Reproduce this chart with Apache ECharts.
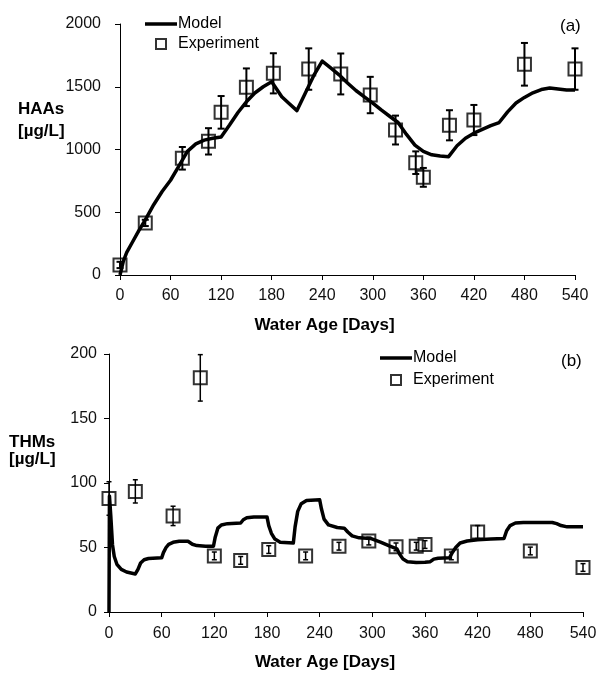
<!DOCTYPE html>
<html>
<head>
<meta charset="utf-8">
<script src="https://cdn.jsdelivr.net/npm/echarts@6/dist/echarts.min.js"></script>
<style>html,body{margin:0;padding:0;background:#fff}#c{width:600px;height:675px}</style>
</head>
<body>
<div id="c"></div>
<script>
// ---- Data ----
var xTicks = [0, 60, 120, 180, 240, 300, 360, 420, 480, 540];

// (a) HAAs
var haaExpDays = [0, 30, 74, 105, 120, 150, 182, 224, 262, 297, 327, 351, 360, 391, 420, 480, 540];
var haaExpVals = [80, 415, 930, 1065, 1296, 1496, 1607, 1641, 1602, 1434, 1155, 895, 778, 1193, 1235, 1679, 1641];
var haaExpErr  = [25, 25, 90, 105, 130, 150, 160, 165, 163, 145, 115, 90, 75, 120, 120, 170, 165];
var haaModelDays = [0, 4, 8, 15, 22, 30, 40, 50, 60, 70, 80, 90, 100, 110, 120, 130, 140, 150, 160, 170, 180, 186, 192, 200, 210, 220, 230, 240, 250, 260, 270, 280, 290, 300, 310, 320, 330, 340, 350, 360, 370, 380, 390, 400, 410, 420, 430, 440, 450, 460, 470, 480, 490, 500, 510, 520, 530, 540];
var haaModelVals = [0, 110, 180, 265, 350, 440, 560, 665, 755, 870, 985, 1045, 1075, 1090, 1100, 1195, 1295, 1380, 1450, 1500, 1540, 1480, 1420, 1370, 1310, 1450, 1590, 1705, 1650, 1595, 1530, 1470, 1420, 1370, 1315, 1265, 1215, 1120, 1035, 985, 958, 948, 943, 1030, 1090, 1130, 1160, 1190, 1215, 1300, 1370, 1415, 1452, 1478, 1490, 1482, 1474, 1474];

// (b) THMs
var thmExpDays = [0, 30, 73, 104, 120, 150, 182, 224, 262, 296, 327, 350, 360, 390, 420, 480, 540];
var thmExpVals = [88, 93.5, 74.5, 181.5, 43.5, 40, 48.4, 43.5, 51, 55, 50.5, 51, 52.3, 43.5, 62, 47.3, 34.5];
var thmExpErr  = [13, 9, 7.5, 18, 3, 3, 3, 3, 3, 3, 3, 3, 3, 3, 5, 3, 3];
var thmModelDays = [0, 0.5, 2, 4, 6, 9, 14, 20, 30, 33, 36, 40, 45, 60, 62, 65, 68, 73, 80, 90, 95, 100, 110, 119, 121, 124, 128, 135, 150, 153, 157, 165, 180, 182, 185, 189, 195, 210, 212, 215, 219, 225, 240, 242, 245, 250, 260, 268, 272, 277, 285, 298, 310, 320, 328, 331, 335, 340, 350, 360, 366, 370, 375, 388, 391, 395, 400, 408, 420, 435, 450, 453, 457, 463, 472, 505, 510, 515, 522, 540];
var thmModelVals = [0, 90, 75, 52, 43, 37, 33, 31, 29.5, 33, 38, 40.5, 41.5, 42, 46, 50, 52.5, 54, 54.8, 54.8, 52.5, 51.5, 51, 51, 58, 65, 67.5, 68.5, 69, 71.5, 73, 73.7, 73.7, 67, 61, 56.5, 54, 53.5, 66, 78, 84, 86.5, 87, 80, 72, 67.5, 65.5, 65, 62, 59, 57.5, 57, 54, 51, 49, 45, 41, 39, 38.3, 38.5, 39, 41, 41.7, 42, 46, 50, 53.5, 55, 56, 56.5, 57, 63, 67, 69, 69.4, 69.4, 68.5, 67, 66, 66];

function zip() {
  var arrs = arguments, out = [];
  for (var i = 0; i < arrs[0].length; i++) {
    var row = [];
    for (var j = 0; j < arrs.length; j++) row.push(arrs[j][i]);
    out.push(row);
  }
  return out;
}

var FONT = 'Liberation Sans, Arial, Helvetica, sans-serif';

function errRender(lw, w) {
  return function (params, api) {
    var x = api.value(0), y = api.value(1), e = api.value(2);
    var t = api.coord([x, y + e]), b = api.coord([x, y - e]);
    var st = { stroke: '#000', lineWidth: lw };
    return {
      type: 'group',
      children: [
        { type: 'line', shape: { x1: t[0], y1: t[1], x2: b[0], y2: b[1] }, style: st },
        { type: 'line', shape: { x1: t[0] - w, y1: t[1], x2: t[0] + w, y2: t[1] }, style: st },
        { type: 'line', shape: { x1: b[0] - w, y1: b[1], x2: b[0] + w, y2: b[1] }, style: st }
      ]
    };
  };
}

function xAxisCfg(gi, margin, shift) {
  return {
    type: 'value', gridIndex: gi, min: 0, max: 540, interval: 60,
    name: 'Water Age [Days]', nameLocation: 'middle', nameGap: 42,
    nameTextStyle: { fontFamily: FONT, fontSize: 17, fontWeight: 'bold', color: '#000', padding: [0, shift, 0, 0] },
    axisLine: { show: true, onZero: false, lineStyle: { color: '#000', width: 1 } },
    axisTick: { show: true, length: 5, lineStyle: { color: '#000' } },
    axisLabel: { fontFamily: FONT, fontSize: 16, color: '#111', margin: margin,
      formatter: function (v) { return String(v); } },
    splitLine: { show: false }
  };
}
function yAxisCfg(gi, max, interval, margin) {
  return {
    type: 'value', gridIndex: gi, min: 0, max: max, interval: interval,
    axisLine: { show: true, lineStyle: { color: '#000', width: 1 } },
    axisTick: { show: true, length: 5, lineStyle: { color: '#000' } },
    axisLabel: { fontFamily: FONT, fontSize: 16, color: '#111', margin: margin,
      formatter: function (v) { return String(v); } },
    splitLine: { show: false }
  };
}

var lineIcon = 'path://M0,0H32V3.5H0Z';
var boxIcon = 'path://M0,0H10V10H0Z';

var chart = echarts.init(document.getElementById('c'), null, { renderer: 'canvas' });
chart.setOption({
  animation: false,
  backgroundColor: '#fff',
  grid: [
    { left: 120, top: 24, width: 455, height: 251 },
    { left: 109, top: 354, width: 474, height: 258 }
  ],
  xAxis: [xAxisCfg(0, 13, 46), xAxisCfg(1, 14, 42)],
  yAxis: [yAxisCfg(0, 2000, 500, 19), yAxisCfg(1, 200, 50, 12)],
  legend: [
    {
      left: 140, top: 11, orient: 'vertical', itemWidth: 32, itemHeight: 10, itemGap: 4,
      textStyle: { fontFamily: FONT, fontSize: 16, color: '#000', padding: [0, 0, 0, -4] },
      data: [
        { name: 'Model ', icon: lineIcon, itemStyle: { color: '#000', borderWidth: 0 } },
        { name: 'Experiment ', icon: boxIcon }
      ]
    },
    {
      left: 375, top: 345, orient: 'vertical', itemWidth: 32, itemHeight: 10, itemGap: 6,
      textStyle: { fontFamily: FONT, fontSize: 16, color: '#000', padding: [0, 0, 0, -4] },
      data: [
        { name: 'Model', icon: lineIcon, itemStyle: { color: '#000', borderWidth: 0 } },
        { name: 'Experiment', icon: boxIcon }
      ]
    }
  ],
  graphic: [
    { type: 'text', left: 18, top: 98, style: { text: 'HAAs\n[µg/L]', font: 'bold 17px ' + FONT, fill: '#000', lineHeight: 22 } },
    { type: 'text', left: 9, top: 434, style: { text: 'THMs\n[µg/L]', font: 'bold 17px ' + FONT, fill: '#000', lineHeight: 17 } },
    { type: 'text', left: 560, top: 18, style: { text: '(a)', font: '17px ' + FONT, fill: '#000' } },
    { type: 'text', left: 561, top: 353, style: { text: '(b)', font: '17px ' + FONT, fill: '#000' } }
  ],
  series: [
    {
      name: 'Model ', type: 'line', xAxisIndex: 0, yAxisIndex: 0,
      data: zip(haaModelDays, haaModelVals), symbol: 'none', smooth: false,
      lineStyle: { color: '#000', width: 3.5, join: 'round' }, itemStyle: { color: '#000' }, z: 2
    },
    {
      name: 'Experiment ', type: 'scatter', xAxisIndex: 0, yAxisIndex: 0,
      data: zip(haaExpDays, haaExpVals), symbol: 'rect', symbolSize: 13,
      itemStyle: { color: 'rgba(255,255,255,0)', borderColor: '#000', borderWidth: 2 }, z: 3
    },
    {
      type: 'custom', xAxisIndex: 0, yAxisIndex: 0, renderItem: errRender(2, 3.5),
      data: zip(haaExpDays, haaExpVals, haaExpErr), encode: { x: 0, y: 1 }, z: 4, silent: true
    },
    {
      name: 'Model', type: 'line', xAxisIndex: 1, yAxisIndex: 1,
      data: zip(thmModelDays, thmModelVals), symbol: 'none', smooth: false,
      lineStyle: { color: '#000', width: 3.5, join: 'round' }, itemStyle: { color: '#000' }, z: 2
    },
    {
      name: 'Experiment', type: 'scatter', xAxisIndex: 1, yAxisIndex: 1,
      data: zip(thmExpDays, thmExpVals), symbol: 'rect', symbolSize: 13,
      itemStyle: { color: 'rgba(255,255,255,0)', borderColor: '#000', borderWidth: 2 }, z: 3
    },
    {
      type: 'custom', xAxisIndex: 1, yAxisIndex: 1, renderItem: errRender(1.5, 2.5),
      data: zip(thmExpDays, thmExpVals, thmExpErr), encode: { x: 0, y: 1 }, z: 4, silent: true
    }
  ]
});
</script>
</body>
</html>
